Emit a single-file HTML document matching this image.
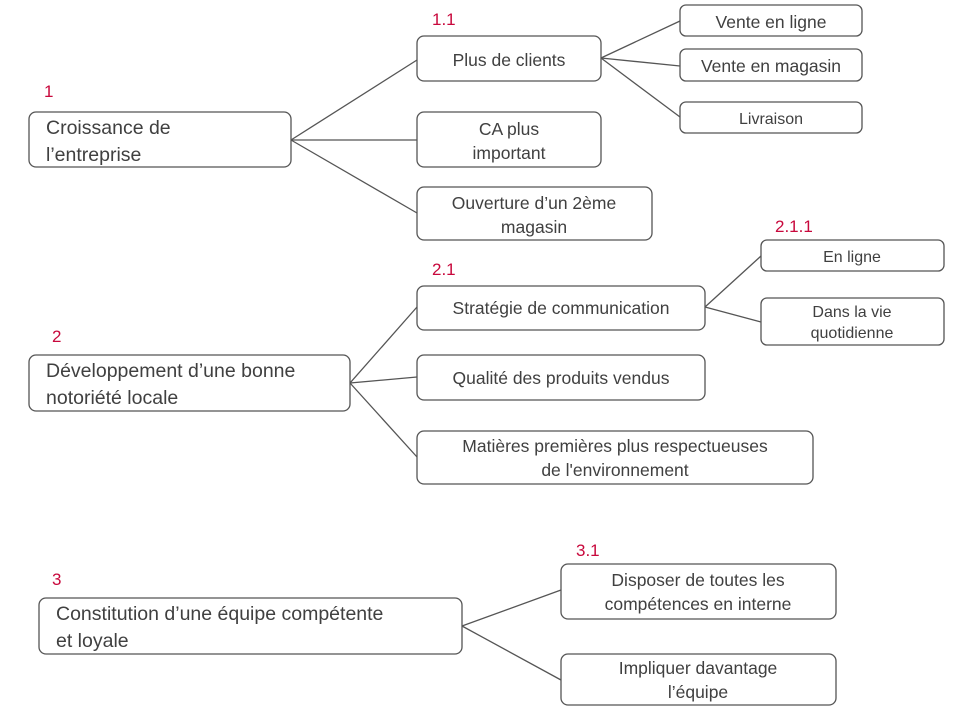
<!DOCTYPE html>
<html><head><meta charset="utf-8"><style>
body{margin:0;background:#fff}
svg{display:block}
text{font-family:"Liberation Sans",Arial,sans-serif;fill:#404040}
.r{fill:#c8083c;font-size:17px}
rect{fill:#fff;stroke:#555;stroke-width:1.3}
line{stroke:#555;stroke-width:1.3}
.b{font-size:19.5px}.m{font-size:17.5px}.s{font-size:16px}
</style></head><body>
<svg width="966" height="714" viewBox="0 0 966 714">
<g>
<line x1="291" y1="140" x2="417" y2="60"/><line x1="291" y1="140" x2="417" y2="140"/><line x1="291" y1="140" x2="417" y2="213"/>
<line x1="601" y1="58" x2="680" y2="21"/><line x1="601" y1="58" x2="680" y2="66"/><line x1="601" y1="58" x2="680" y2="117"/>
<line x1="350" y1="383" x2="417" y2="307"/><line x1="350" y1="383" x2="417" y2="377"/><line x1="350" y1="383" x2="417" y2="457"/>
<line x1="705" y1="307" x2="761" y2="256"/><line x1="705" y1="307" x2="761" y2="322"/>
<line x1="462" y1="626" x2="561" y2="590"/><line x1="462" y1="626" x2="561" y2="680"/>
</g>
<rect x="29" y="112" width="262" height="55" rx="7"/>
<rect x="417" y="36" width="184" height="45" rx="7"/>
<rect x="417" y="112" width="184" height="55" rx="7"/>
<rect x="417" y="187" width="235" height="53" rx="7"/>
<rect x="680" y="5" width="182" height="31" rx="6"/>
<rect x="680" y="49" width="182" height="32" rx="6"/>
<rect x="680" y="102" width="182" height="31" rx="6"/>
<rect x="29" y="355" width="321" height="56" rx="7"/>
<rect x="417" y="286" width="288" height="44" rx="7"/>
<rect x="417" y="355" width="288" height="45" rx="7"/>
<rect x="417" y="431" width="396" height="53" rx="7"/>
<rect x="761" y="240" width="183" height="31" rx="6"/>
<rect x="761" y="298" width="183" height="47" rx="6"/>
<rect x="39" y="598" width="423" height="56" rx="7"/>
<rect x="561" y="564" width="275" height="55" rx="7"/>
<rect x="561" y="654" width="275" height="51" rx="7"/>

<text class="r" x="44" y="97">1</text>
<text class="r" x="432" y="25">1.1</text>
<text class="r" x="775" y="232">2.1.1</text>
<text class="r" x="432" y="275">2.1</text>
<text class="r" x="52" y="342">2</text>
<text class="r" x="576" y="556">3.1</text>
<text class="r" x="52" y="585">3</text>

<text class="b" x="46" y="134">Croissance de</text>
<text class="b" x="46" y="161">l’entreprise</text>
<text class="m" x="509" y="66" text-anchor="middle">Plus de clients</text>
<text class="m" x="509" y="135" text-anchor="middle">CA plus</text>
<text class="m" x="509" y="159" text-anchor="middle">important</text>
<text class="m" x="534" y="209" text-anchor="middle">Ouverture d’un 2ème</text>
<text class="m" x="534" y="233" text-anchor="middle">magasin</text>
<text class="m" x="771" y="28" text-anchor="middle">Vente en ligne</text>
<text class="m" x="771" y="72" text-anchor="middle">Vente en magasin</text>
<text class="s" x="771" y="124" text-anchor="middle">Livraison</text>
<text class="b" x="46" y="377">Développement d’une bonne</text>
<text class="b" x="46" y="404">notoriété locale</text>
<text class="m" x="561" y="314" text-anchor="middle">Stratégie de communication</text>
<text class="m" x="561" y="384" text-anchor="middle">Qualité des produits vendus</text>
<text class="m" x="615" y="452" text-anchor="middle">Matières premières plus respectueuses</text>
<text class="m" x="615" y="476" text-anchor="middle">de l'environnement</text>
<text class="s" x="852" y="262" text-anchor="middle">En ligne</text>
<text class="s" x="852" y="317" text-anchor="middle">Dans la vie</text>
<text class="s" x="852" y="338" text-anchor="middle">quotidienne</text>
<text class="b" x="56" y="620">Constitution d’une équipe compétente</text>
<text class="b" x="56" y="647">et loyale</text>
<text class="m" x="698" y="586" text-anchor="middle">Disposer de toutes les</text>
<text class="m" x="698" y="610" text-anchor="middle">compétences en interne</text>
<text class="m" x="698" y="674" text-anchor="middle">Impliquer davantage</text>
<text class="m" x="698" y="698" text-anchor="middle">l’équipe</text>
</svg>
</body></html>
